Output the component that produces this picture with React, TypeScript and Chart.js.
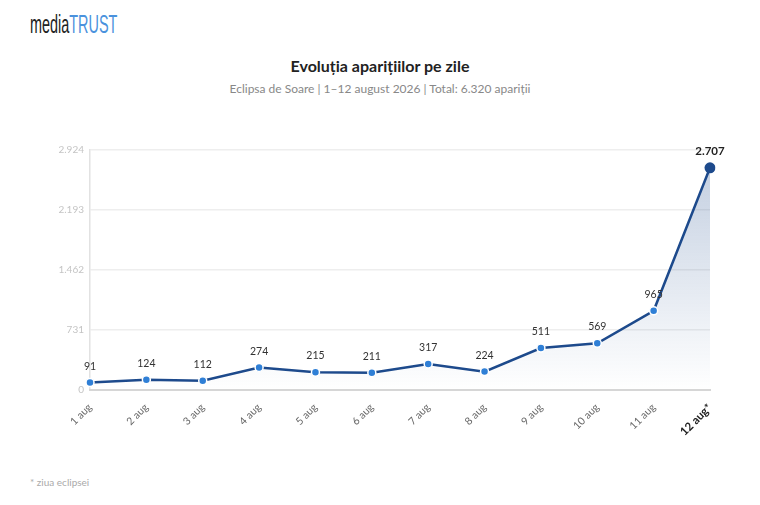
import { useEffect, useRef } from "react"
import { Chart, registerables } from "chart.js"

Chart.register(...registerables)

const days = ["1 aug", "2 aug", "3 aug", "4 aug", "5 aug", "6 aug", "7 aug", "8 aug", "9 aug", "10 aug", "11 aug", "12 aug*"]
const appearances = [91, 124, 112, 274, 215, 211, 317, 224, 511, 569, 965, 2707]
const yTicks = [0, 731, 1462, 2193, 2924]

const fmt = (n: number) => String(n).replace(/\B(?=(\d{3})+(?!\d))/g, ".")

const LINE = "#1d4a8c"
const POINT = "#2f7fd6"

// etichete deasupra punctelor
const valueLabels = {
  id: "valueLabels",
  afterDatasetsDraw(chart: Chart) {
    const { ctx } = chart
    const meta = chart.getDatasetMeta(0)
    ctx.save()
    ctx.textAlign = "center"
    ctx.textBaseline = "bottom"
    meta.data.forEach((pt, i) => {
      const last = i === appearances.length - 1
      ctx.font = last ? "bold 11.5px Lato" : "10.5px Lato"
      ctx.fillStyle = last ? "#222" : "#333"
      ctx.fillText(fmt(appearances[i]), pt.x, pt.y - 11)
    })
    ctx.restore()
  },
}

function LineChart() {
  const chartRef = useRef<HTMLCanvasElement>(null)
  const chartInstance = useRef<Chart | null>(null)

  useEffect(() => {
    if (!chartRef.current) return
    if (chartInstance.current) chartInstance.current.destroy()
    const ctx = chartRef.current.getContext("2d")
    if (!ctx) return

    const last = appearances.length - 1

    chartInstance.current = new Chart(ctx, {
      type: "line",
      data: {
        labels: days,
        datasets: [
          {
            data: appearances,
            borderColor: LINE,
            borderWidth: 2.5,
            tension: 0,
            fill: "origin",
            backgroundColor: (c: any) => {
              const area = c.chart.chartArea
              if (!area) return "rgba(29,74,140,0.1)"
              const g = c.chart.ctx.createLinearGradient(0, area.top, 0, area.bottom)
              g.addColorStop(0, "rgba(29,74,140,0.28)")
              g.addColorStop(1, "rgba(29,74,140,0)")
              return g
            },
            pointRadius: appearances.map((_, i) => (i === last ? 5.5 : 4)),
            pointBackgroundColor: appearances.map((_, i) => (i === last ? LINE : POINT)),
            pointBorderColor: "#fff",
            pointBorderWidth: appearances.map((_, i) => (i === last ? 0 : 1.5)),
          },
        ],
      },
      options: {
        responsive: true,
        maintainAspectRatio: false,
        animation: false,
        events: [],
        layout: { padding: { top: 20, right: 20, left: 0, bottom: 0 } },
        plugins: {
          legend: { display: false },
          tooltip: { enabled: false },
        },
        scales: {
          y: {
            min: 0,
            max: yTicks[yTicks.length - 1],
            afterFit: (s: any) => {
              s.width = 50
            },
            afterBuildTicks: (s: any) => {
              s.ticks = yTicks.map((v) => ({ value: v }))
            },
            grid: { color: "#eeeeee", lineWidth: 1.5, drawTicks: false },
            border: { display: true, color: "#e2e2e2", width: 1.5 },
            ticks: {
              padding: 6,
              color: "#c4c4c4",
              font: { family: "Lato", size: 10 },
              callback: (v: any) => fmt(Number(v)),
            },
          },
          x: {
            offset: false,
            afterFit: (s: any) => {
              s.height = 50
            },
            grid: { display: false },
            border: { display: true, color: "#d6d6d6", width: 2 },
            ticks: {
              minRotation: 45,
              maxRotation: 45,
              padding: 3,
              color: (c: any) => (c.index === last ? "#222" : "#666"),
              font: (c: any) =>
                c.index === last
                  ? { family: "Lato", size: 11.5, weight: "bold" }
                  : { family: "Lato", size: 10.5 },
            },
          },
        },
      },
      plugins: [valueLabels],
    })

    return () => {
      if (chartInstance.current) {
        chartInstance.current.destroy()
        chartInstance.current = null
      }
    }
  }, [])

  return (
    <div style={{ position: "absolute", left: 40, top: 130, width: 690, height: 310 }}>
      <canvas ref={chartRef}></canvas>
    </div>
  )
}

export default function App() {
  useEffect(() => {
    document.body.style.margin = "0"
  }, [])

  return (
    <div style={{ position: "relative", width: 760, height: 505, background: "#fff", fontFamily: "Lato, sans-serif" }}>
      <div
        style={{
          position: "absolute",
          left: 30,
          top: 9,
          fontFamily: "'Liberation Sans', sans-serif",
          fontSize: 26,
          lineHeight: "30px",
          whiteSpace: "nowrap",
          transform: "scaleX(0.555)",
          transformOrigin: "left top",
        }}
      >
        <span style={{ color: "#222" }}>media</span>
        <span style={{ color: "#4a92dd" }}>TRUST</span>
      </div>
      <div
        style={{
          position: "absolute",
          left: 0,
          width: 760,
          top: 56,
          textAlign: "center",
          fontSize: 16,
          fontWeight: "bold",
          color: "#222",
        }}
      >
        Evoluția aparițiilor pe zile
      </div>
      <div
        style={{
          position: "absolute",
          left: 0,
          width: 760,
          top: 81,
          textAlign: "center",
          fontSize: 12,
          color: "#888",
        }}
      >
        Eclipsa de Soare | 1–12 august 2026 | Total: 6.320 apariții
      </div>
      <LineChart />
      <div style={{ position: "absolute", left: 30, top: 476, fontSize: 10, color: "#aaa" }}>* ziua eclipsei</div>
    </div>
  )
}
